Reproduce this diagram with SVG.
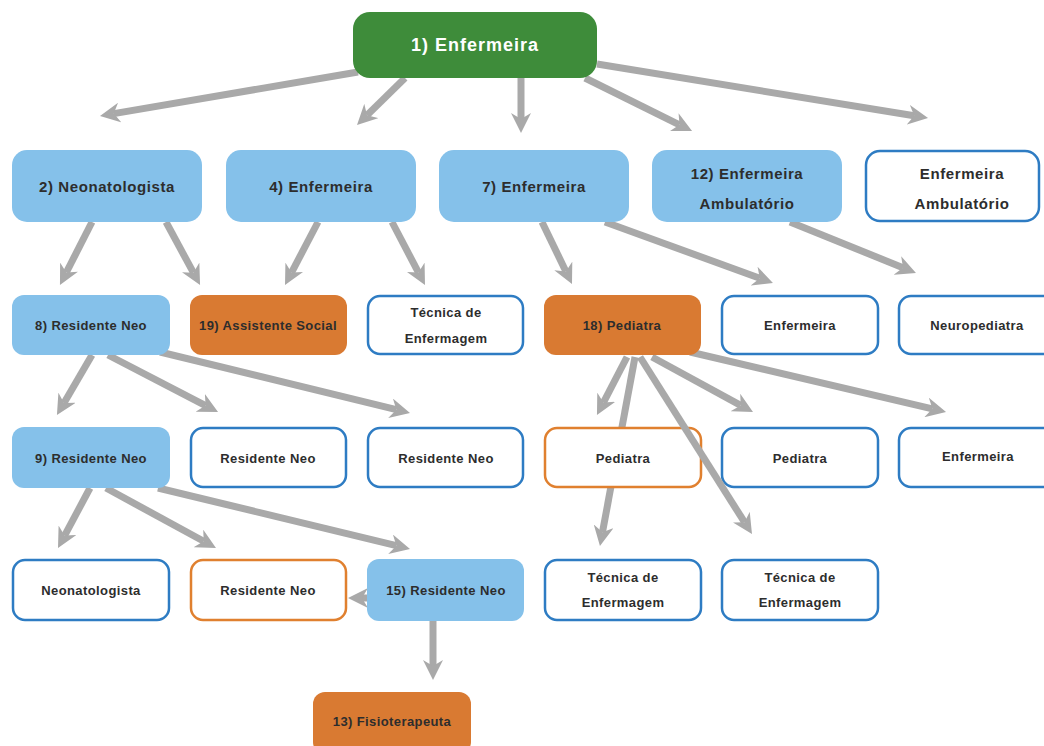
<svg xmlns="http://www.w3.org/2000/svg" width="1044" height="746" viewBox="0 0 1044 746">
  <defs>
    <marker id="head" markerUnits="userSpaceOnUse" markerWidth="20" markerHeight="20" refX="6" refY="10" orient="auto">
      <path d="M0,0 L20,10 L0,20 L6,10 z" fill="#a9a9a9"/>
    </marker>
    <style>
      .link { stroke: #a9a9a9; stroke-width: 7; fill: none; marker-end: url(#head); }
      .root { fill: #3e8c3a; }
      .lead { fill: #85c1ea; }
      .key  { fill: #d97a32; }
      .blue { fill: #ffffff; stroke: #2e7cc3; stroke-width: 2.5; }
      .ring { fill: #ffffff; stroke: #e0802f; stroke-width: 2.5; }
      text { font-family: "Liberation Sans", Arial, sans-serif; font-weight: bold; fill: #2d2d2d; text-anchor: middle; dominant-baseline: central; }
      .t18 { font-size: 18px; letter-spacing: 1px; fill: #ffffff; }
      .t15 { font-size: 15px; letter-spacing: 0.6px; }
      .t13 { font-size: 13px; letter-spacing: 0.4px; }
    </style>
  </defs>

  <rect width="1044" height="746" fill="#ffffff"/>

  <!-- connectors (drawn beneath the boxes) -->
  <g id="connectors">
    <line class="link" x1="358" y1="72" x2="113.8" y2="113.6"/>
    <line class="link" x1="405" y1="78" x2="367" y2="115.2"/>
    <line class="link" x1="521" y1="78" x2="521" y2="119"/>
    <line class="link" x1="585" y1="78" x2="679.5" y2="124.8"/>
    <line class="link" x1="597" y1="64" x2="914.2" y2="115.8"/>

    <line class="link" x1="92" y1="222" x2="66.3" y2="272.5"/>
    <line class="link" x1="166" y1="222" x2="193.4" y2="272.7"/>
    <line class="link" x1="318" y1="222" x2="291.5" y2="272.6"/>
    <line class="link" x1="392" y1="222" x2="418.5" y2="272.6"/>
    <line class="link" x1="542" y1="222" x2="565.9" y2="271.4"/>
    <line class="link" x1="605" y1="222" x2="759.8" y2="278.2"/>
    <line class="link" x1="790" y1="222" x2="903" y2="267.7"/>

    <line class="link" x1="92" y1="355" x2="64" y2="402.9"/>
    <line class="link" x1="108" y1="355" x2="205.6" y2="405.6"/>
    <line class="link" x1="160" y1="352" x2="396.4" y2="409.7"/>
    <line class="link" x1="627" y1="357" x2="603.4" y2="402.6"/>
    <line class="link" x1="635" y1="357" x2="602.5" y2="532.2"/>
    <line class="link" x1="652" y1="357" x2="740.7" y2="405.4"/>
    <line class="link" x1="690" y1="352" x2="932.4" y2="408.8"/>

    <line class="link" x1="90" y1="488" x2="64.6" y2="535.6"/>
    <line class="link" x1="106" y1="488" x2="203.7" y2="541.3"/>
    <line class="link" x1="158" y1="488" x2="396.4" y2="545.7"/>
    <line class="link" x1="372" y1="598" x2="362" y2="598"/>
    <line class="link" x1="433" y1="621" x2="433" y2="666"/>
  </g>

  <!-- level 1 -->
  <g id="n1"><rect class="root" x="353" y="12" width="244" height="66" rx="17"/><text class="t18" x="475" y="45">1) Enfermeira</text></g>

  <!-- level 2 -->
  <g id="n2"><rect class="lead" x="12" y="150" width="190" height="72" rx="15"/><text class="t15" x="107" y="186">2) Neonatologista</text></g>
  <g id="n4"><rect class="lead" x="226" y="150" width="190" height="72" rx="15"/><text class="t15" x="321" y="186">4) Enfermeira</text></g>
  <g id="n7"><rect class="lead" x="439" y="150" width="190" height="72" rx="15"/><text class="t15" x="534" y="186">7) Enfermeira</text></g>
  <g id="n12"><rect class="lead" x="652" y="150" width="190" height="72" rx="15"/><text class="t15" x="747" y="173">12) Enfermeira</text><text class="t15" x="747" y="203">Ambulatório</text></g>
  <g id="n-amb"><rect class="blue" x="866" y="151" width="173" height="70" rx="14"/><text class="t15" x="962" y="173">Enfermeira</text><text class="t15" x="962" y="203">Ambulatório</text></g>

  <!-- level 3 -->
  <g id="n8"><rect class="lead" x="12" y="295" width="158" height="60" rx="12"/><text class="t13" x="91" y="325">8) Residente Neo</text></g>
  <g id="n19"><rect class="key" x="190" y="295" width="157" height="60" rx="12"/><text class="t13" x="268" y="325">19) Assistente Social</text></g>
  <g id="n-tec1"><rect class="blue" x="368" y="296" width="155" height="58" rx="12"/><text class="t13" x="446" y="312">Técnica de</text><text class="t13" x="446" y="338">Enfermagem</text></g>
  <g id="n18"><rect class="key" x="544" y="295" width="157" height="60" rx="12"/><text class="t13" x="622" y="325">18) Pediatra</text></g>
  <g id="n-enf1"><rect class="blue" x="722" y="296" width="156" height="58" rx="12"/><text class="t13" x="800" y="325">Enfermeira</text></g>
  <g id="n-neuro"><rect class="blue" x="899" y="296" width="158" height="58" rx="12"/><text class="t13" x="977" y="325">Neuropediatra</text></g>

  <!-- level 4 -->
  <g id="n9"><rect class="lead" x="12" y="427" width="158" height="61" rx="12"/><text class="t13" x="91" y="458">9) Residente Neo</text></g>
  <g id="n-res1"><rect class="blue" x="191" y="428" width="155" height="59" rx="12"/><text class="t13" x="268" y="458">Residente Neo</text></g>
  <g id="n-res2"><rect class="blue" x="368" y="428" width="155" height="59" rx="12"/><text class="t13" x="446" y="458">Residente Neo</text></g>
  <g id="n-ped1"><rect class="ring" x="545" y="428" width="156" height="59" rx="12"/><text class="t13" x="623" y="458">Pediatra</text></g>
  <g id="n-ped2"><rect class="blue" x="722" y="428" width="156" height="59" rx="12"/><text class="t13" x="800" y="458">Pediatra</text></g>
  <g id="n-enf2"><rect class="blue" x="899" y="428" width="158" height="59" rx="12"/><text class="t13" x="978" y="456">Enfermeira</text></g>

  <!-- level 5 -->
  <g id="n-neo"><rect class="blue" x="13" y="560" width="156" height="60" rx="12"/><text class="t13" x="91" y="590">Neonatologista</text></g>
  <g id="n-res3"><rect class="ring" x="191" y="560" width="155" height="60" rx="12"/><text class="t13" x="268" y="590">Residente Neo</text></g>
  <g id="n15"><rect class="lead" x="367" y="559" width="157" height="62" rx="12"/><text class="t13" x="446" y="590">15) Residente Neo</text></g>
  <g id="n-tec2"><rect class="blue" x="545" y="560" width="156" height="60" rx="12"/><text class="t13" x="623" y="577">Técnica de</text><text class="t13" x="623" y="602">Enfermagem</text></g>
  <g id="n-tec3"><rect class="blue" x="722" y="560" width="156" height="60" rx="12"/><text class="t13" x="800" y="577">Técnica de</text><text class="t13" x="800" y="602">Enfermagem</text></g>

  <!-- level 6 -->
  <g id="n13"><rect class="key" x="313" y="692" width="158" height="62" rx="12"/><text class="t13" x="392" y="721">13) Fisioterapeuta</text></g>

  <!-- connector crossing over the Pediatra box -->
  <g id="connectors-over">
    <line class="link" x1="640" y1="357" x2="744.5" y2="522.2"/>
  </g>
</svg>
